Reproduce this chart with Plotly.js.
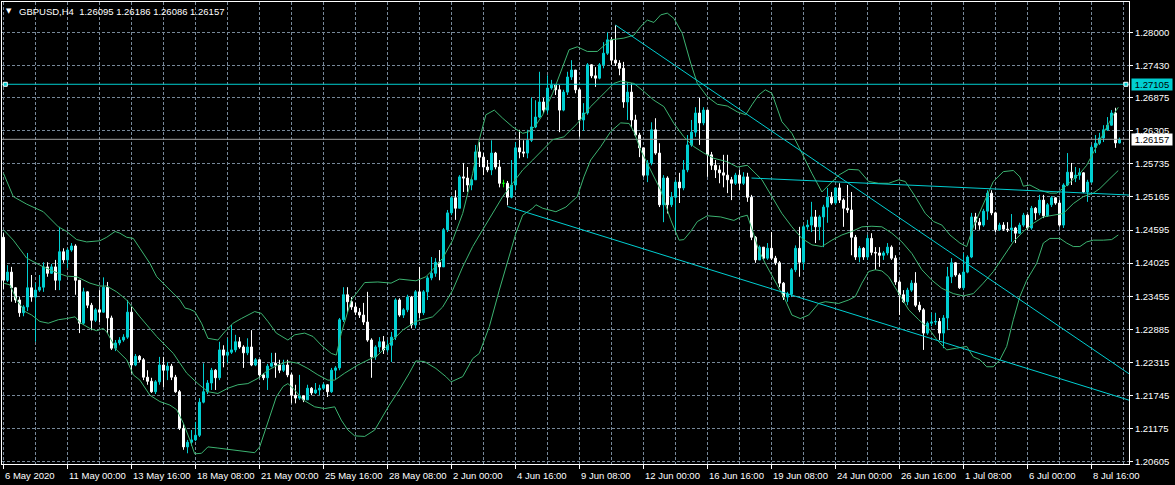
<!DOCTYPE html>
<html><head><meta charset="utf-8">
<script src="https://cdn.plot.ly/plotly-3.0.1.min.js"></script>
<style>html,body{margin:0;padding:0;background:#000;overflow:hidden}#chart{width:1175px;height:485px}</style>
</head><body><div id="chart"></div>
<script>
// ---------- data ----------
const symbolTitle = 'GBPUSD,H4';
const lastOHLC = ['1.26095', '1.26186', '1.26086', '1.26157'];

const tickBars = [0,16,32,48,64,80,96,112,128,144,160,176,192,208,224,240,256,272];
const tickLabels = ['6 May 2020','11 May 00:00','13 May 16:00','18 May 08:00','21 May 00:00','25 May 16:00',
  '28 May 08:00','2 Jun 00:00','4 Jun 16:00','9 Jun 08:00','12 Jun 00:00','16 Jun 16:00','19 Jun 08:00',
  '24 Jun 00:00','26 Jun 16:00','1 Jul 08:00','6 Jul 00:00','8 Jul 16:00'];
const priceTicks = [1.28000,1.27430,1.26875,1.26305,1.25735,1.25165,1.24595,1.24025,1.23455,1.22885,1.22315,1.21745,1.21175,1.20605];

const openP = [
1.2447,1.2373,1.2387,1.2360,1.2339,1.2317,1.2327,1.2360,1.2344,1.2356,
1.2361,1.2396,1.2385,1.2396,1.2373,1.2422,1.2408,1.2425,1.2432,1.2373,
1.2299,1.2353,1.2330,1.2304,1.2322,1.2318,1.2361,1.2308,1.2256,1.2265,
1.2270,1.2275,1.2318,1.2227,1.2242,1.2236,1.2206,1.2199,1.2181,1.2198,
1.2227,1.2218,1.2225,1.2206,1.2181,1.2118,1.2086,1.2094,1.2098,1.2106,
1.2163,1.2181,1.2196,1.2218,1.2205,1.2253,1.2244,1.2249,1.2253,1.2267,
1.2258,1.2248,1.2258,1.2227,1.2236,1.2210,1.2205,1.2225,1.2230,1.2227,
1.2218,1.2227,1.2210,1.2175,1.2170,1.2174,1.2167,1.2187,1.2179,1.2184,
1.2187,1.2193,1.2181,1.2218,1.2222,1.2305,1.2348,1.2336,1.2327,1.2318,
1.2313,1.2301,1.2270,1.2241,1.2258,1.2267,1.2253,1.2261,1.2275,1.2339,
1.2313,1.2322,1.2344,1.2296,1.2353,1.2317,1.2353,1.2377,1.2385,1.2404,
1.2396,1.2460,1.2489,1.2515,1.2497,1.2551,1.2549,1.2537,1.2546,1.2594,
1.2585,1.2568,1.2563,1.2592,1.2568,1.2540,1.2540,1.2516,1.2537,1.2601,
1.2594,1.2592,1.2614,1.2637,1.2654,1.2680,1.2666,1.2704,1.2709,1.2701,
1.2666,1.2697,1.2723,1.2735,1.2701,1.2649,1.2661,1.2744,1.2725,1.2721,
1.2744,1.2764,1.2787,1.2752,1.2747,1.2738,1.2680,1.2697,1.2649,1.2623,
1.2601,1.2554,1.2575,1.2632,1.2592,1.2503,1.2549,1.2503,1.2516,1.2542,
1.2532,1.2563,1.2606,1.2628,1.2661,1.2644,1.2666,1.2589,1.2571,1.2563,
1.2558,1.2554,1.2546,1.2540,1.2554,1.2540,1.2551,1.2516,1.2447,1.2408,
1.2430,1.2411,1.2428,1.2411,1.2403,1.2368,1.2344,1.2349,1.2391,1.2428,
1.2404,1.2465,1.2468,1.2482,1.2465,1.2482,1.2499,1.2516,1.2506,1.2532,
1.2511,1.2497,1.2494,1.2447,1.2413,1.2428,1.2413,1.2445,1.2421,1.2420,
1.2416,1.2420,1.2430,1.2411,1.2370,1.2348,1.2336,1.2356,1.2368,1.2330,
1.2322,1.2282,1.2299,1.2301,1.2302,1.2282,1.2308,1.2379,1.2403,1.2382,
1.2360,1.2387,1.2413,1.2482,1.2473,1.2468,1.2492,1.2523,1.2489,1.2460,
1.2468,1.2461,1.2460,1.2463,1.2454,1.2468,1.2485,1.2463,1.2497,1.2489,
1.2511,1.2484,1.2503,1.2515,1.2506,1.2468,1.2537,1.2559,1.2549,1.2554,
1.2558,1.2525,1.2542,1.2602,1.2609,1.2618,1.2632,1.2640,1.2661,1.26095];

const highP = [
1.2454,1.2399,1.2396,1.2361,1.2344,1.2330,1.2420,1.2382,1.2368,1.2382,
1.2404,1.2404,1.2401,1.2408,1.2465,1.2428,1.2428,1.2437,1.2435,1.2373,
1.2360,1.2354,1.2334,1.2325,1.2356,1.2378,1.2370,1.2312,1.2270,1.2275,
1.2280,1.2339,1.2327,1.2246,1.2244,1.2239,1.2218,1.2205,1.2201,1.2241,
1.2241,1.2232,1.2229,1.2210,1.2184,1.2125,1.2098,1.2115,1.2129,1.2170,
1.2230,1.2201,1.2222,1.2220,1.2267,1.2261,1.2273,1.2296,1.2279,1.2275,
1.2261,1.2273,1.2287,1.2239,1.2237,1.2213,1.2229,1.2248,1.2248,1.2236,
1.2236,1.2236,1.2213,1.2193,1.2210,1.2175,1.2193,1.2189,1.2196,1.2193,
1.2196,1.2194,1.2222,1.2225,1.2308,1.2361,1.2361,1.2344,1.2334,1.2325,
1.2334,1.2353,1.2273,1.2261,1.2275,1.2277,1.2270,1.2284,1.2342,1.2342,
1.2325,1.2348,1.2346,1.2356,1.2396,1.2356,1.2380,1.2413,1.2411,1.2425,
1.2463,1.2494,1.2518,1.2528,1.2554,1.2575,1.2568,1.2549,1.2606,1.2611,
1.2592,1.2580,1.2614,1.2594,1.2580,1.2546,1.2544,1.2580,1.2611,1.2632,
1.2614,1.2632,1.2688,1.2683,1.2732,1.2687,1.2726,1.2718,1.2709,1.2709,
1.2701,1.2732,1.2752,1.2735,1.2704,1.2678,1.2747,1.2745,1.2740,1.2747,
1.2783,1.2800,1.2792,1.2812,1.2752,1.2749,1.2714,1.2712,1.2658,1.2627,
1.2601,1.2580,1.2645,1.2652,1.2609,1.2554,1.2552,1.2525,1.2546,1.2558,
1.2580,1.2623,1.2649,1.2671,1.2687,1.2671,1.2666,1.2594,1.2580,1.2571,
1.2589,1.2589,1.2551,1.2558,1.2563,1.2559,1.2558,1.2520,1.2449,1.2433,
1.2430,1.2437,1.2456,1.2415,1.2406,1.2370,1.2353,1.2394,1.2433,1.2465,
1.2468,1.2477,1.2508,1.2494,1.2485,1.2503,1.2532,1.2525,1.2533,1.2540,
1.2514,1.2537,1.2525,1.2451,1.2432,1.2430,1.2451,1.2454,1.2430,1.2430,
1.2423,1.2437,1.2433,1.2416,1.2373,1.2356,1.2360,1.2373,1.2387,1.2336,
1.2325,1.2302,1.2317,1.2317,1.2308,1.2313,1.2396,1.2411,1.2404,1.2385,
1.2420,1.2416,1.2489,1.2489,1.2480,1.2496,1.2528,1.2528,1.2491,1.2472,
1.2473,1.2473,1.2487,1.2465,1.2472,1.2489,1.2487,1.2501,1.2499,1.2520,
1.2520,1.2506,1.2518,1.2516,1.2511,1.2540,1.2592,1.2575,1.2568,1.2566,
1.2559,1.2546,1.2606,1.2623,1.2627,1.2640,1.2654,1.2666,1.2670,1.26186];

const lowP = [
1.2358,1.2370,1.2336,1.2334,1.2310,1.2311,1.2320,1.2336,1.2267,1.2353,
1.2353,1.2379,1.2384,1.2356,1.2356,1.2403,1.2394,1.2422,1.2348,1.2282,
1.2296,1.2325,1.2287,1.2301,1.2301,1.2317,1.2282,1.2253,1.2251,1.2261,
1.2267,1.2272,1.2213,1.2225,1.2232,1.2201,1.2193,1.2179,1.2177,1.2193,
1.2189,1.2201,1.2201,1.2179,1.2115,1.2081,1.2075,1.2088,1.2096,1.2103,
1.2161,1.2177,1.2184,1.2184,1.2201,1.2223,1.2230,1.2246,1.2249,1.2255,
1.2222,1.2244,1.2225,1.2225,1.2205,1.2201,1.2184,1.2223,1.2205,1.2213,
1.2215,1.2206,1.2161,1.2161,1.2167,1.2163,1.2167,1.2175,1.2177,1.2175,
1.2184,1.2172,1.2179,1.2201,1.2218,1.2301,1.2318,1.2322,1.2313,1.2308,
1.2296,1.2267,1.2205,1.2236,1.2249,1.2246,1.2249,1.2232,1.2270,1.2310,
1.2308,1.2318,1.2290,1.2290,1.2308,1.2313,1.2339,1.2373,1.2379,1.2373,
1.2396,1.2456,1.2485,1.2477,1.2497,1.2525,1.2525,1.2528,1.2546,1.2568,
1.2554,1.2559,1.2554,1.2564,1.2533,1.2533,1.2502,1.2514,1.2528,1.2583,
1.2585,1.2583,1.2611,1.2635,1.2652,1.2661,1.2660,1.2701,1.2692,1.2628,
1.2664,1.2692,1.2718,1.2695,1.2620,1.2630,1.2658,1.2721,1.2706,1.2719,
1.2738,1.2761,1.2744,1.2742,1.2726,1.2670,1.2649,1.2637,1.2620,1.2585,
1.2551,1.2542,1.2571,1.2589,1.2499,1.2473,1.2488,1.2499,1.2456,1.2506,
1.2528,1.2559,1.2603,1.2620,1.2606,1.2640,1.2551,1.2563,1.2549,1.2540,
1.2533,1.2523,1.2511,1.2537,1.2528,1.2537,1.2508,1.2442,1.2403,1.2408,
1.2408,1.2408,1.2408,1.2399,1.2361,1.2339,1.2336,1.2344,1.2387,1.2379,
1.2391,1.2460,1.2456,1.2437,1.2442,1.2430,1.2472,1.2503,1.2503,1.2506,
1.2465,1.2489,1.2416,1.2408,1.2404,1.2408,1.2408,1.2416,1.2391,1.2396,
1.2408,1.2416,1.2408,1.2365,1.2313,1.2334,1.2330,1.2353,1.2327,1.2318,
1.2253,1.2279,1.2294,1.2296,1.2270,1.2256,1.2287,1.2368,1.2379,1.2358,
1.2356,1.2385,1.2411,1.2460,1.2460,1.2465,1.2477,1.2485,1.2456,1.2458,
1.2458,1.2456,1.2439,1.2437,1.2453,1.2465,1.2460,1.2460,1.2477,1.2485,
1.2480,1.2482,1.2499,1.2503,1.2465,1.2463,1.2535,1.2537,1.2542,1.2546,
1.2523,1.2508,1.2540,1.2592,1.2606,1.2611,1.2630,1.2639,1.2601,1.26086];

const closeP = [
1.2373,1.2387,1.2360,1.2339,1.2317,1.2327,1.2360,1.2344,1.2356,1.2361,
1.2396,1.2385,1.2396,1.2373,1.2422,1.2408,1.2425,1.2432,1.2373,1.2299,
1.2353,1.2330,1.2304,1.2322,1.2318,1.2361,1.2308,1.2256,1.2265,1.2270,
1.2275,1.2318,1.2227,1.2242,1.2236,1.2206,1.2199,1.2181,1.2198,1.2227,
1.2218,1.2225,1.2206,1.2181,1.2118,1.2086,1.2094,1.2098,1.2106,1.2163,
1.2181,1.2196,1.2218,1.2205,1.2253,1.2244,1.2249,1.2253,1.2267,1.2258,
1.2248,1.2258,1.2227,1.2236,1.2210,1.2205,1.2225,1.2230,1.2227,1.2218,
1.2227,1.2210,1.2175,1.2170,1.2174,1.2167,1.2187,1.2179,1.2184,1.2187,
1.2193,1.2181,1.2218,1.2222,1.2305,1.2348,1.2336,1.2327,1.2318,1.2313,
1.2301,1.2270,1.2241,1.2258,1.2267,1.2253,1.2261,1.2275,1.2339,1.2313,
1.2322,1.2344,1.2296,1.2353,1.2317,1.2353,1.2377,1.2385,1.2404,1.2396,
1.2460,1.2489,1.2515,1.2497,1.2551,1.2549,1.2537,1.2546,1.2594,1.2585,
1.2568,1.2563,1.2592,1.2568,1.2540,1.2540,1.2516,1.2537,1.2601,1.2594,
1.2592,1.2614,1.2637,1.2654,1.2680,1.2666,1.2704,1.2709,1.2701,1.2666,
1.2697,1.2723,1.2735,1.2701,1.2649,1.2661,1.2744,1.2725,1.2721,1.2744,
1.2764,1.2787,1.2752,1.2747,1.2738,1.2680,1.2697,1.2649,1.2623,1.2601,
1.2554,1.2575,1.2632,1.2592,1.2503,1.2549,1.2503,1.2516,1.2542,1.2532,
1.2563,1.2606,1.2628,1.2661,1.2644,1.2666,1.2589,1.2571,1.2563,1.2558,
1.2554,1.2546,1.2540,1.2554,1.2540,1.2551,1.2516,1.2447,1.2408,1.2430,
1.2411,1.2428,1.2411,1.2403,1.2368,1.2344,1.2349,1.2391,1.2428,1.2404,
1.2465,1.2468,1.2482,1.2465,1.2482,1.2499,1.2516,1.2506,1.2532,1.2511,
1.2497,1.2494,1.2447,1.2413,1.2428,1.2413,1.2445,1.2421,1.2420,1.2416,
1.2420,1.2430,1.2411,1.2370,1.2348,1.2336,1.2356,1.2368,1.2330,1.2322,
1.2282,1.2299,1.2301,1.2302,1.2282,1.2308,1.2379,1.2403,1.2382,1.2360,
1.2387,1.2413,1.2482,1.2473,1.2468,1.2492,1.2523,1.2489,1.2460,1.2468,
1.2461,1.2460,1.2463,1.2454,1.2468,1.2485,1.2463,1.2497,1.2489,1.2511,
1.2484,1.2503,1.2515,1.2506,1.2468,1.2537,1.2559,1.2549,1.2554,1.2558,
1.2525,1.2542,1.2602,1.2609,1.2618,1.2632,1.2640,1.2661,1.26095,1.26157];

// Bollinger Bands (20, 2): bar position and level
const bbUpperBar = [0,2.45,5.8,9.95,13.7,15.8,18.3,20.8,24.1,25.8,27.9,29.1,30.8,32.45,34.1,36.6,38.3,41.6,44.1,45.4,
46.6,47.8,49.5,51.1,53.6,55.3,57.4,59.45,62.8,64.45,66.1,68.2,71.1,72.8,75.3,77.4,79.45,81.95,83.2,84.45,
86.95,90.3,93.6,96.9,98.95,103.1,105.6,107.3,109.8,112.3,114.8,117.3,118.95,120.6,122.7,124.8,127.3,129.8,131.45,133.1,
134.8,137.3,139.4,141.4,143.45,145.95,148.45,151.8,155.1,157.6,159.3,160.95,162.6,164.3,165.95,167.6,169.7,171.8,173.45,175.95,
178.45,180.95,183.45,185.55,187.1,188.8,190.45,192.1,194.6,197.1,199.6,202.1,204.6,207.1,208.8,211.3,213.8,216.3,218.8,221.3,
223.8,225.45,227.95,230.45,232.55,234.6,236.6,239.1,240.8,242.45,244.95,247.45,249.95,252.45,254.1,254.95,256.6,259.1,261.6,263.3,
265.4,267.45,269.1,270.8,272.45,274.1,275.8,277.45,278.7];
const bbUpperVal = [1.2557,1.2517,1.2504,1.2491,1.2465,1.2457,1.2443,1.2439,1.2441,1.2447,1.2457,1.2454,1.2447,1.2445,1.2428,1.2402,1.2379,1.2356,1.2339,1.2325,
1.2323,1.2319,1.2299,1.2273,1.2270,1.2284,1.2299,1.2307,1.2319,1.2316,1.2302,1.2282,1.2270,1.2279,1.2282,1.2276,1.2261,1.2247,1.2244,1.2282,
1.2339,1.2369,1.2370,1.2368,1.2375,1.2372,1.2379,1.2391,1.2411,1.2442,1.2488,1.2557,1.2615,1.2658,1.2666,1.2652,1.2637,1.2626,1.2629,1.2640,
1.2658,1.2695,1.2732,1.2770,1.2775,1.2767,1.2767,1.2787,1.2790,1.2795,1.2810,1.2821,1.2817,1.2830,1.2833,1.2824,1.2798,1.2747,1.2712,1.2689,
1.2676,1.2673,1.2663,1.2658,1.2675,1.2692,1.2701,1.2695,1.2646,1.2626,1.2592,1.2557,1.2525,1.2543,1.2554,1.2564,1.2563,1.2543,1.2540,1.2540,
1.2546,1.2543,1.2517,1.2488,1.2474,1.2468,1.2451,1.2437,1.2431,1.2465,1.2505,1.2543,1.2560,1.2562,1.2551,1.2535,1.2537,1.2528,1.2523,1.2523,
1.2534,1.2546,1.2557,1.2571,1.2592,1.2615,1.2635,1.2658,1.2671];

const bbMidBar = [0,2.45,5.8,9.95,13.7,15.8,18.3,21.6,24.1,25.8,28.3,30.8,34.1,38.3,42.45,45.8,48.6,51.1,53.6,56.1,
58.6,61.1,63.6,66.1,68.6,71.1,73.6,76.1,78.6,81.1,82.8,85.3,88.6,91.95,93.6,96.45,99.8,103.1,107.3,109.8,
112.3,114.8,117.3,119.8,122.3,124.8,127.3,129.8,132.3,134.8,137.3,140.1,143.45,146.8,150.1,152.6,154.3,157.6,160.1,162.6,
165.1,167.6,170.1,172.6,175.1,177.6,180.95,183.45,185.95,189.6,192.1,194.6,197.1,199.6,202.1,204.6,207.1,209.6,212.1,214.6,
217.1,219.6,222.1,224.6,227.1,229.6,232.1,234.6,237.45,239.95,242.45,244.95,247.45,249.95,252.45,254.95,257.45,259.95,262.45,264.95,
267.45,269.95,272.45,274.1,276.6,278.7];
const bbMidVal = [1.2460,1.2442,1.2411,1.2396,1.2385,1.2380,1.2379,1.2368,1.2363,1.2363,1.2353,1.2339,1.2310,1.2276,1.2247,1.2213,1.2195,1.2181,1.2178,1.2187,
1.2193,1.2195,1.2204,1.2218,1.2227,1.2233,1.2230,1.2221,1.2210,1.2201,1.2201,1.2213,1.2227,1.2238,1.2244,1.2264,1.2287,1.2302,1.2310,1.2327,
1.2356,1.2396,1.2431,1.2460,1.2488,1.2517,1.2540,1.2563,1.2580,1.2597,1.2615,1.2620,1.2643,1.2672,1.2695,1.2712,1.2716,1.2712,1.2698,1.2683,
1.2672,1.2643,1.2620,1.2603,1.2592,1.2583,1.2577,1.2568,1.2571,1.2546,1.2517,1.2488,1.2465,1.2445,1.2434,1.2431,1.2442,1.2451,1.2457,1.2465,
1.2466,1.2465,1.2454,1.2439,1.2419,1.2391,1.2373,1.2359,1.2350,1.2346,1.2350,1.2368,1.2388,1.2414,1.2439,1.2457,1.2471,1.2482,1.2485,1.2488,
1.2505,1.2517,1.2523,1.2531,1.2548,1.2562];

const bbLowBar = [0,1.6,3.3,5.4,7.05,9.1,11.2,13.7,15.8,17.9,19.1,21.6,23.3,24.95,25.8,28.3,30.8,32.45,34.1,36.6,
39.1,41.6,43.3,44.95,46.6,47.8,49.5,51.1,53.6,56.95,60.3,62.8,64.05,66.1,68.2,69.9,71.1,72.8,74.9,77.8,
80.3,82.8,84.45,86.1,87.8,90.3,92.8,96.45,98.95,101.45,103.1,105.2,108.1,110.6,111.9,114.8,117.3,118.95,121.45,123.95,
126.45,128.1,129.8,132.3,133.1,134.8,138.1,140.6,143.45,145.1,146.8,149.3,151.8,154.3,156.4,157.6,159.3,161.8,164.3,166.8,
168.9,170.1,171.8,173.45,175.95,179.3,182.6,184.3,185.95,187.6,188.8,190.45,192.95,195.45,197.1,199.2,201.3,203.8,205.45,208.8,
211.3,212.95,214.6,216.3,217.95,219.6,221.3,223.8,226.3,228.8,231.3,233.4,235.8,238.3,240.8,242.45,244.1,245.8,247.45,249.1,
250.8,252.45,254.1,255.8,258.3,259.95,261.6,264.1,265.8,267.45,269.1,270.8,272.45,274.95,277.05,278.7];
const bbLowVal = [1.2368,1.2365,1.2339,1.2319,1.2313,1.2302,1.2299,1.2305,1.2307,1.2310,1.2300,1.2290,1.2286,1.2290,1.2284,1.2253,1.2236,1.2210,1.2201,1.2175,
1.2164,1.2158,1.2150,1.2127,1.2098,1.2074,1.2075,1.2086,1.2084,1.2081,1.2078,1.2076,1.2086,1.2127,1.2172,1.2190,1.2195,1.2184,1.2167,1.2155,
1.2152,1.2155,1.2132,1.2115,1.2105,1.2104,1.2115,1.2158,1.2184,1.2213,1.2234,1.2233,1.2221,1.2207,1.2198,1.2207,1.2238,1.2247,1.2293,1.2356,
1.2414,1.2454,1.2485,1.2497,1.2503,1.2497,1.2491,1.2499,1.2517,1.2551,1.2580,1.2603,1.2629,1.2644,1.2643,1.2629,1.2597,1.2563,1.2528,1.2477,
1.2442,1.2443,1.2457,1.2474,1.2484,1.2482,1.2476,1.2482,1.2485,1.2451,1.2425,1.2402,1.2371,1.2339,1.2313,1.2307,1.2313,1.2333,1.2336,1.2333,
1.2339,1.2345,1.2368,1.2388,1.2391,1.2389,1.2379,1.2350,1.2322,1.2305,1.2290,1.2270,1.2253,1.2256,1.2259,1.2241,1.2236,1.2224,1.2224,1.2236,
1.2259,1.2305,1.2345,1.2373,1.2402,1.2437,1.2445,1.2445,1.2437,1.2431,1.2431,1.2439,1.2442,1.2442,1.2443,1.2451];

// drawn objects: trend lines (bar, price anchors) and horizontal levels
const trendFromTopBar = [153, 282];      const trendFromTopVal = [1.28125, 1.22090];
const trendLowerBar = [126, 282];        const trendLowerVal = [1.2500, 1.21651];
const trendFlatBar = [187, 282];         const trendFlatVal = [1.2549, 1.25196];
const levelLine = 1.27105;
const bidLevel = 1.26157;

// ---------- styles ----------
const CYAN = '#00CED1', WHITE = '#FFFFFF', GREEN = '#3CB371', GRID = '#778899', LIME = '#00FF00';
const FONT = 'Liberation Sans, Arial, sans-serif';
const XMIN = -0.375, XMAX = 281.375, YMIN = 1.205652, YMAX = 1.285218;

const bars = openP.map((_, i) => i);
const sel = f => bars.filter(f);
const normIdx = sel(i => closeP[i] !== openP[i]);
const dojiIdx = sel(i => closeP[i] === openP[i]);
const sub = (arr, idx) => idx.map(i => arr[i]);

function candles(idx, upCol, downCol) {
  return {
    type: 'candlestick', x: idx, open: sub(openP, idx), high: sub(highP, idx),
    low: sub(lowP, idx), close: sub(closeP, idx), whiskerwidth: 0,
    increasing: {line: {color: upCol, width: 1}, fillcolor: upCol},
    decreasing: {line: {color: downCol, width: 1}, fillcolor: downCol},
    hoverinfo: 'skip', showlegend: false
  };
}
function line(x, y, color, width) {
  return {type: 'scatter', mode: 'lines', x: x, y: y, line: {color: color, width: width || 1},
          hoverinfo: 'skip', showlegend: false};
}

const traces = [
  line([XMIN - 1, XMAX + 1], [bidLevel, bidLevel], '#A0A0A0'),
  candles(normIdx, CYAN, WHITE),
  candles(dojiIdx, LIME, LIME),
  line(bbUpperBar, bbUpperVal, GREEN),
  line(bbMidBar, bbMidVal, GREEN),
  line(bbLowBar, bbLowVal, GREEN),
  line([XMIN - 1, XMAX + 1], [levelLine, levelLine], CYAN),
  line(trendFromTopBar, trendFromTopVal, CYAN),
  line(trendLowerBar, trendLowerVal, CYAN),
  line(trendFlatBar, trendFlatVal, CYAN),
  {type: 'scatter', mode: 'markers', x: [0.45, 280.6], y: [levelLine, levelLine],
   marker: {symbol: 'square', size: 4, color: CYAN, line: {color: WHITE, width: 1}},
   hoverinfo: 'skip', showlegend: false, cliponaxis: false}
];

const lblFont = {family: FONT, size: 9.5, color: WHITE};
const annotations = [];
tickBars.forEach((b, k) => annotations.push({
  x: b, xref: 'x', y: 0, yref: 'paper', xanchor: 'left', yanchor: 'middle', yshift: -11, xshift: 0,
  text: tickLabels[k], showarrow: false, font: lblFont, borderpad: 0
}));
annotations.push({x: 0, xref: 'paper', y: 1, yref: 'paper', xanchor: 'left', yanchor: 'top',
  xshift: 3, yshift: -4, text: '▼', showarrow: false, font: {family: 'DejaVu Sans', size: 7, color: WHITE}, borderpad: 0});
annotations.push({x: 0, xref: 'paper', y: 1, yref: 'paper', xanchor: 'left', yanchor: 'top',
  xshift: 15, yshift: -2, text: symbolTitle + '\u00a0\u00a0' + lastOHLC.join(' '), showarrow: false, font: lblFont, borderpad: 1});
annotations.push({x: 1, xref: 'paper', y: levelLine, yref: 'y', xanchor: 'left', yanchor: 'middle', xshift: 2,
  text: levelLine.toFixed(5), showarrow: false, bgcolor: CYAN, width: 40, height: 11, borderpad: 0,
  font: {family: FONT, size: 9.5, color: '#000000'}});
annotations.push({x: 1, xref: 'paper', y: bidLevel, yref: 'y', xanchor: 'left', yanchor: 'middle', xshift: 2,
  text: bidLevel.toFixed(5), showarrow: false, bgcolor: WHITE, width: 40, height: 11, borderpad: 0,
  font: {family: FONT, size: 9.5, color: '#000000'}});

const layout = {
  width: 1175, height: 485,
  margin: {l: 2, r: 46, t: 2, b: 21, pad: 0},
  paper_bgcolor: '#000000', plot_bgcolor: '#000000',
  showlegend: false, hovermode: false,
  boxgap: 0.5, boxgroupgap: 0,
  xaxis: {
    type: 'linear', range: [XMIN, XMAX], rangeslider: {visible: false},
    tickmode: 'linear', tick0: 0, dtick: 16, showticklabels: false,
    ticks: 'outside', ticklen: 4, tickwidth: 1, tickcolor: WHITE,
    showgrid: true, gridcolor: GRID, gridwidth: 1, griddash: '3px,2px',
    minor: {tick0: 0, dtick: 8, showgrid: true, gridcolor: GRID, gridwidth: 1, griddash: '3px,2px', ticks: ''},
    showline: true, linecolor: WHITE, linewidth: 1, mirror: true, zeroline: false, fixedrange: true
  },
  yaxis: {
    range: [YMIN, YMAX], side: 'right',
    tickmode: 'array', tickvals: priceTicks, ticktext: priceTicks.map(v => v.toFixed(5)),
    ticks: 'outside', ticklen: 3, tickwidth: 1, tickcolor: WHITE,
    tickfont: {family: FONT, size: 9.5, color: WHITE},
    showgrid: true, gridcolor: GRID, gridwidth: 1, griddash: '3px,2px',
    showline: true, linecolor: WHITE, linewidth: 1, mirror: true, zeroline: false, fixedrange: true
  },
  annotations: annotations
};

Plotly.newPlot('chart', traces, layout, {staticPlot: true, displayModeBar: false});
</script>
</body></html>
